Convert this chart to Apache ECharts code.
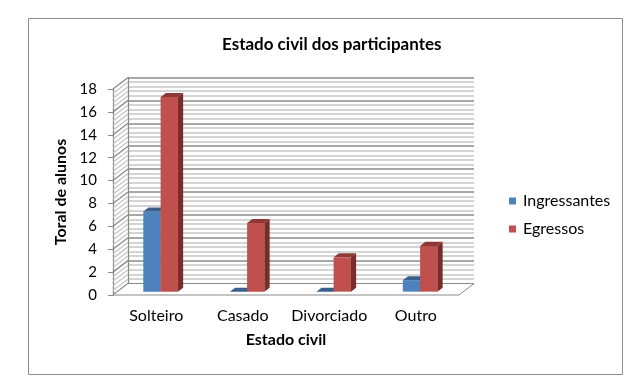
<!DOCTYPE html>
<html><head><meta charset="utf-8">
<script src="https://cdn.jsdelivr.net/npm/echarts@6/dist/echarts.min.js"></script>
<style>html,body{margin:0;padding:0;background:#fff}#c{width:635px;height:384px}</style>
</head><body><div id="c"></div>
<script>
const categories = ['Solteiro', 'Casado', 'Divorciado', 'Outro'];
const ingressantes = [7, 0, 0, 1];
const egressos = [17, 6, 3, 4];
const seriesNames = ['Ingressantes', 'Egressos'];
const yMin = 0, yMax = 18, yInterval = 2;

const FONT = 'Lato, "Liberation Sans", sans-serif';
const DX = 15, DY = -11.5;      // wall depth vector (px)
const F0 = 0.29, F1 = 0.64;     // bar depth fractions
const GRID_GRAY = '#8a8a8a', MINOR_GRAY = '#c6c6c6';
const faceColors = [
  { front: '#4F81BD', side: '#35577F', top: '#3A5F8D' },
  { front: '#C0504D', side: '#7A2C2A', top: '#8E3836' }
];

function wallRender(params, api) {
  const children = [];
  const p0 = api.coord([0, 0]);
  const band = api.size([1, 0])[0];
  const xl = p0[0] - band / 2;
  const xr = xl + band * categories.length;
  const yb = p0[1];
  const steps = Math.round((yMax - yMin) / yInterval) * 5;
  for (let i = 0; i <= steps; i++) {
    const v = yMin + i * yInterval / 5;
    const y = api.coord([0, v])[1];
    const major = i % 5 === 0;
    children.push({
      type: 'line',
      shape: { x1: xl, y1: y, x2: xl + DX, y2: y + DY },
      style: { stroke: major ? GRID_GRAY : MINOR_GRAY, lineWidth: 1.3 }
    });
  }
  children.push({
    type: 'polygon',
    shape: { points: [[xl, yb], [xr, yb], [xr + DX, yb + DY], [xl + DX, yb + DY]] },
    style: { fill: '#ffffff', stroke: GRID_GRAY, lineWidth: 1 }
  });
  return { type: 'group', children };
}

function barRender(sIdx) {
  return function (params, api) {
    const cat = api.value(0), val = api.value(1);
    const base = api.coord([cat, 0]);
    const top = api.coord([cat, val]);
    const band = api.size([1, 0])[0];
    const w = band * 0.2;
    const left = base[0] - w + sIdx * w;
    const f = (x, y, k) => [x + DX * k, y + DY * k];
    const A = f(left, top[1], F0), B = f(left + w, top[1], F0);
    const C = f(left + w, base[1], F0), D = f(left, base[1], F0);
    const A2 = f(left, top[1], F1), B2 = f(left + w, top[1], F1), C2 = f(left + w, base[1], F1);
    const col = faceColors[sIdx];
    const children = [];
    if (val > 0) {
      children.push({ type: 'polygon', shape: { points: [A, B, C, D] }, style: { fill: col.front } });
      children.push({ type: 'polygon', shape: { points: [B, B2, C2, C] }, style: { fill: col.side } });
    }
    children.push({ type: 'polygon', shape: { points: [A, B, B2, A2] }, style: { fill: col.top } });
    return { type: 'group', children };
  };
}

const chart = echarts.init(document.getElementById('c'), null, { renderer: 'canvas' });
chart.setOption({
  animation: false,
  backgroundColor: '#ffffff',
  textStyle: { fontFamily: FONT },
  title: {
    text: 'Estado civil dos participantes',
    left: 217, top: 31,
    textStyle: { fontFamily: FONT, fontSize: 17, fontWeight: 'bold', color: '#000' }
  },
  legend: {
    data: seriesNames,
    orient: 'vertical',
    left: 509, top: 193,
    icon: 'rect', itemWidth: 7, itemHeight: 7, itemGap: 12,
    padding: 0,
    textStyle: { fontFamily: FONT, fontSize: 16, color: '#000', padding: [0, 0, 0, 2] }
  },
  graphic: [{
    type: 'rect', shape: { x: 28.5, y: 18.5, width: 594, height: 356 },
    style: { fill: 'none', stroke: '#8c8c8c', lineWidth: 1 }, z: -10, silent: true
  }],
  grid: [
    { left: 113, right: 176, top: 89, bottom: 89 },
    { left: 113 + DX, right: 176 - DX, top: 89 + DY, bottom: 89 - DY }
  ],
  xAxis: [
    {
      type: 'category', gridIndex: 0, data: categories,
      axisLine: { show: false }, axisTick: { show: false },
      axisLabel: { fontFamily: FONT, fontSize: 16, color: '#000', margin: 13, interval: 0 },
      name: 'Estado civil', nameLocation: 'middle', nameGap: 37,
      nameTextStyle: { fontFamily: FONT, fontSize: 16, fontWeight: 'bold', color: '#000' }
    },
    {
      type: 'category', gridIndex: 1, data: categories,
      axisLine: { show: false }, axisTick: { show: false }, axisLabel: { show: false }
    }
  ],
  yAxis: [
    {
      type: 'value', gridIndex: 0, min: yMin, max: yMax, interval: yInterval,
      axisLine: { show: true, lineStyle: { color: GRID_GRAY, width: 1.3 } },
      axisTick: { show: true, length: 5, lineStyle: { color: GRID_GRAY } },
      axisLabel: { fontFamily: FONT, fontSize: 15, color: '#000', margin: 16 },
      splitLine: { show: false },
      name: 'Toral de alunos', nameLocation: 'middle', nameGap: 40, nameRotate: 90,
      nameTextStyle: { fontFamily: FONT, fontSize: 16, fontWeight: 'bold', color: '#000' }
    },
    {
      type: 'value', gridIndex: 1, min: yMin, max: yMax, interval: yInterval,
      axisLine: { show: true, lineStyle: { color: GRID_GRAY, width: 1.3 } },
      axisTick: { show: false }, axisLabel: { show: false },
      splitLine: { show: true, lineStyle: { color: GRID_GRAY, width: 1.5 } },
      minorTick: { show: false, splitNumber: 5 },
      minorSplitLine: { show: true, lineStyle: { color: MINOR_GRAY, width: 1.5 } }
    }
  ],
  series: [
    {
      type: 'custom', name: 'walls', xAxisIndex: 0, yAxisIndex: 0, z: 1,
      data: [[0, 0]], renderItem: wallRender, silent: true, legendHoverLink: false
    },
    {
      type: 'custom', name: seriesNames[0], xAxisIndex: 0, yAxisIndex: 0, z: 3,
      itemStyle: { color: faceColors[0].front },
      data: ingressantes.map((v, i) => [i, v]), renderItem: barRender(0)
    },
    {
      type: 'custom', name: seriesNames[1], xAxisIndex: 0, yAxisIndex: 0, z: 4,
      itemStyle: { color: faceColors[1].front },
      data: egressos.map((v, i) => [i, v]), renderItem: barRender(1)
    }
  ]
});
</script></body></html>
